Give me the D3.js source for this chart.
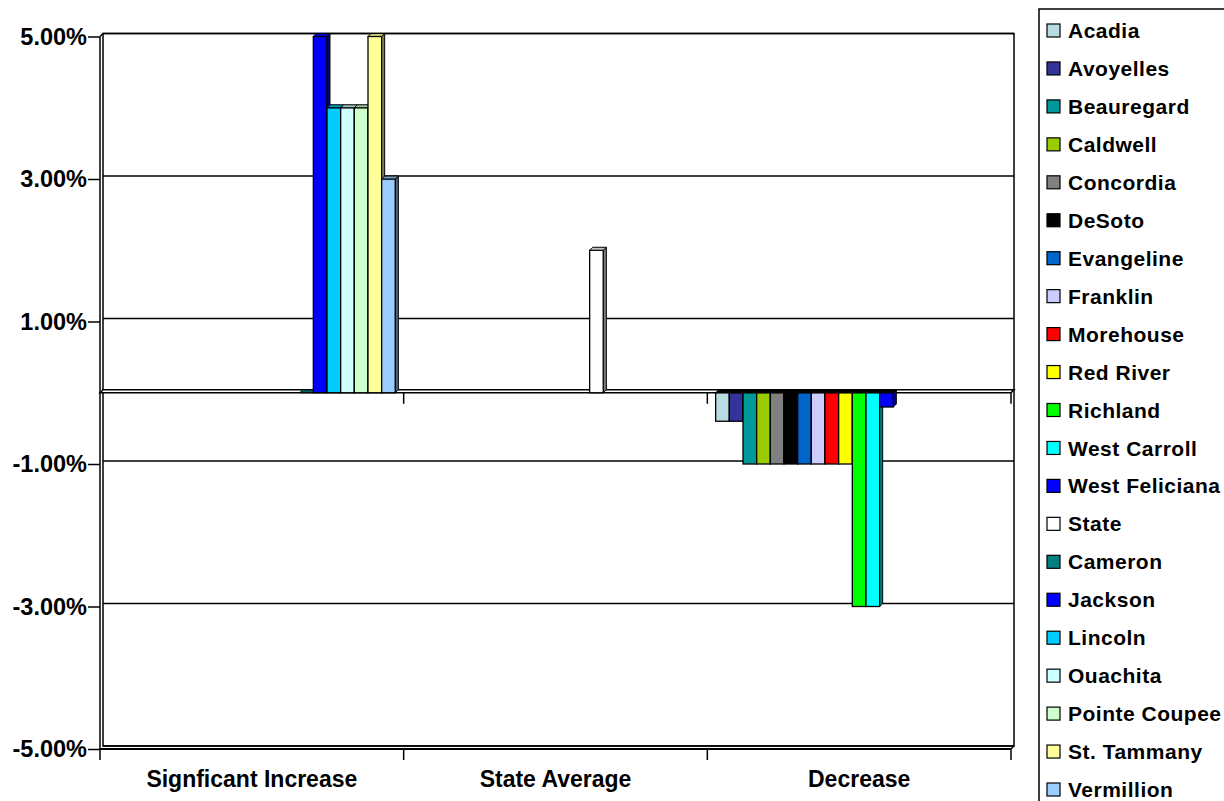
<!DOCTYPE html>
<html><head><meta charset="utf-8">
<script src="https://cdn.jsdelivr.net/npm/d3@7"></script>
<style>
body{margin:0;background:#fff}
text{font-family:"Liberation Sans",Arial,sans-serif;font-weight:bold;fill:#000}
</style>
</head><body><svg id="c" width="1224" height="801"></svg>
<script>
const categories = ["Signficant Increase", "State Average", "Decrease"];
const seriesNames = ["Acadia","Avoyelles","Beauregard","Caldwell","Concordia","DeSoto","Evangeline","Franklin","Morehouse","Red River","Richland","West Carroll","West Feliciana","State","Cameron","Jackson","Lincoln","Ouachita","Pointe Coupee","St. Tammany","Vermillion"];
const seriesColors = ["#B7DDE0","#333399","#009999","#99CC00","#808080","#000000","#0066CC","#CCCCFF","#FF0000","#FFFF00","#00FF00","#00FFFF","#0000FF","#FFFFFF","#008080","#0000FF","#00CCFF","#CCFFFF","#CCFFCC","#FFFF99","#99CCFF"];
// values (%) per category, one entry per series (null = no bar)
const increaseValues     = [null,null,null,null,null,null,null,null,null,null,null,null,null,null,0,5,4,4,4,5,3];
const stateAverageValues = [null,null,null,null,null,null,null,null,null,null,null,null,null,2,null,null,null,null,null,null,null];
const decreaseValues     = [-0.4,-0.4,-1,-1,-1,-1,-1,-1,-1,-1,-3,-3,-0.2,null,null,null,null,null,null,null,null];
const yTickValues = [-5,-3,-1,1,3,5];

const valuesByCategory = [increaseValues, stateAverageValues, decreaseValues];

(function () {
const svg = d3.select('#c');
const pLeft = 100, pRight = 1011, pTop = 36.5, pBottom = 749, dx = 3, dy = 3;

const y = d3.scaleLinear().domain([-5, 5]).range([pBottom, pTop]);
const x0 = d3.scaleBand().domain(categories).range([pLeft, pRight]).padding(0);
const x1 = d3.scaleBand().domain(seriesNames).range([0, x0.bandwidth()]).paddingInner(0).paddingOuter(0.61);
const color = d3.scaleOrdinal().domain(seriesNames).range(seriesColors);

const g = svg.append('g');

// back wall
g.append('rect').attr('x', pLeft + dx).attr('y', pTop - dy)
  .attr('width', pRight - pLeft).attr('height', pBottom - pTop)
  .attr('fill', '#fff').attr('stroke', '#000').attr('stroke-width', 1.5);

// gridlines on back wall
g.selectAll('.grid').data(yTickValues).enter().append('line')
  .attr('x1', pLeft + dx).attr('x2', pRight + dx)
  .attr('y1', d => y(d) - dy).attr('y2', d => y(d) - dy)
  .attr('stroke', '#000').attr('stroke-width', 1.5);

const edge = (ax, ay, bx, by, w) => g.append('line').attr('x1', ax).attr('y1', ay).attr('x2', bx).attr('y2', by).attr('stroke', '#000').attr('stroke-width', w || 1.5);
edge(pLeft, pTop, pLeft, pBottom, 1.5);
edge(pLeft, pTop, pLeft + dx, pTop - dy);
edge(pLeft, pBottom, pRight, pBottom, 1.8);
edge(pRight, pBottom, pRight + dx, pBottom - dy);

// floor at zero
const y0 = y(0);
g.append('polygon')
  .attr('points', [[pLeft, y0], [pRight, y0], [pRight + dx, y0 - dy], [pLeft + dx, y0 - dy]].map(p => p.join(',')).join(' '))
  .attr('fill', '#fff').attr('stroke', '#000').attr('stroke-width', 1.5);

// y axis
const yAxis = d3.axisLeft(y).tickValues(yTickValues).tickFormat(d => d.toFixed(2) + '%').tickSize(12).tickPadding(1);
const ya = svg.append('g').attr('transform', `translate(${pLeft},0)`).call(yAxis);
ya.select('.domain').remove();
ya.selectAll('.tick line').attr('stroke', '#000').attr('stroke-width', 1.5);
ya.selectAll('.tick text').style('font-size', '23.5px').style('font-family', '"Liberation Sans",Arial,sans-serif').style('font-weight', 'bold').attr('fill', '#000');

// category ticks at boundaries, at zero level and bottom
const bounds = categories.map(c => x0(c)).concat([pRight]);
bounds.forEach((bx, i) => {
  if (i > 0) edge(bx, y0, bx, y0 + 11, 1.5);
  edge(bx, pBottom, bx, pBottom + 11, 1.5);
});

// category labels
const xAxis = d3.axisBottom(x0).tickSize(0).tickPadding(0);
const xa = svg.append('g').attr('transform', `translate(0,${pBottom})`).call(xAxis);
xa.select('.domain').remove();
xa.selectAll('.tick text').attr('y', 30).attr('dy', '0.35em')
  .style('font-size', '23px').style('font-family', '"Liberation Sans",Arial,sans-serif').style('font-weight', 'bold').attr('fill', '#000');

// bars
const bars = svg.append('g');
categories.forEach((cat, ci) => {
  valuesByCategory[ci].forEach((v, si) => {
    if (v === null) return;
    const name = seriesNames[si];
    const c = d3.color(color(name));
    const bx = x0(cat) + x1(name), w = x1.bandwidth();
    const yv = y(v);
    const yt = Math.min(yv, y0), yb = Math.max(yv, y0);
    const bg = bars.append('g');
    if (yb - yt > 0.5) {
      bg.append('rect').attr('x', bx).attr('y', yt).attr('width', w).attr('height', yb - yt)
        .attr('fill', c.formatHex()).attr('stroke', '#000').attr('stroke-width', 1.3);
      bg.append('polygon')
        .attr('points', [[bx + w, yt], [bx + w + dx, yt - dy], [bx + w + dx, yb - dy], [bx + w, yb]].map(p => p.join(',')).join(' '))
        .attr('fill', c.darker(2).formatHex()).attr('stroke', '#000').attr('stroke-width', 1);
    }
    bg.append('polygon')
      .attr('points', [[bx, yt], [bx + w, yt], [bx + w + dx, yt - dy], [bx + dx, yt - dy]].map(p => p.join(',')).join(' '))
      .attr('fill', v < 0 ? '#000' : c.darker(0.8).formatHex()).attr('stroke', '#000').attr('stroke-width', 1);
  });
});

// legend
const lg = svg.append('g');
lg.append('rect').attr('x', 1039).attr('y', 9).attr('width', 220).attr('height', 820)
  .attr('fill', '#fff').attr('stroke', '#000').attr('stroke-width', 1.5);
seriesNames.forEach((name, i) => {
  const cy = 30.5 + i * 37.95;
  lg.append('rect').attr('x', 1047).attr('y', cy - 6.5).attr('width', 13).attr('height', 13)
    .attr('fill', color(name)).attr('stroke', '#000').attr('stroke-width', 1.2);
  lg.append('text').attr('x', 1068).attr('y', cy).attr('dy', '0.36em')
    .style('font-size', '21px').style('letter-spacing', '0.5px').text(name);
});
})();
</script>
</body></html>
